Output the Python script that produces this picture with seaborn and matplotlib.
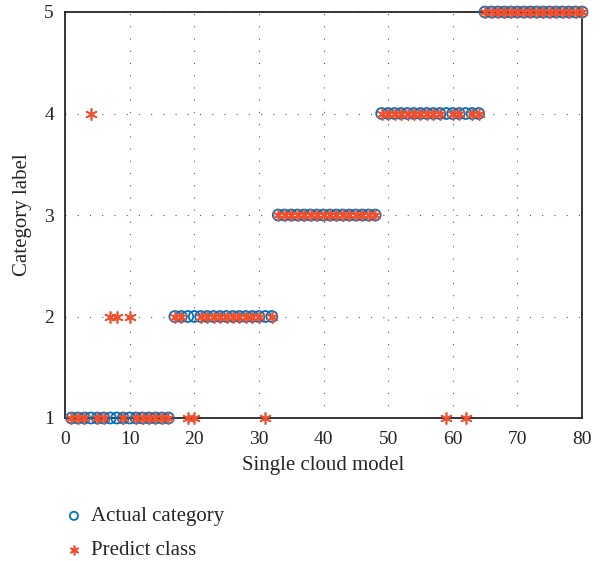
import numpy as np
import pandas as pd
import matplotlib
matplotlib.use("Agg")
import matplotlib.pyplot as plt
import seaborn as sns

sample = list(range(1, 81))
actual_category = [1]*16 + [2]*16 + [3]*16 + [4]*16 + [5]*16
predict_class = [1, 1, 1, 4, 1, 1, 2, 2, 1, 2, 1, 1, 1, 1, 1, 1,
                 2, 2, 1, 1, 2, 2, 2, 2, 2, 2, 2, 2, 2, 2, 1, 2,
                 3, 3, 3, 3, 3, 3, 3, 3, 3, 3, 3, 3, 3, 3, 3, 3,
                 4, 4, 4, 4, 4, 4, 4, 4, 4, 4, 1, 4, 4, 1, 4, 4,
                 5, 5, 5, 5, 5, 5, 5, 5, 5, 5, 5, 5, 5, 5, 5, 5]
x_ticks = [0, 10, 20, 30, 40, 50, 60, 70, 80]
y_ticks = [1, 2, 3, 4, 5]

sns.set_style("white")
plt.rcParams['font.family'] = ['Liberation Serif', 'DejaVu Serif']

df = pd.DataFrame({"sample": sample, "actual": actual_category, "pred": predict_class})

fig = plt.figure(figsize=(6.03, 5.61), dpi=100)
ax = fig.add_axes([65/603, 1-418/561, (582-65)/603, (418-12)/561])

sns.scatterplot(data=df, x="sample", y="actual", ax=ax, marker="o", s=62,
                facecolor="none", edgecolor="#0072BD", linewidth=1.3,
                label="Actual category", clip_on=False, zorder=3)
sns.scatterplot(data=df, x="sample", y="pred", ax=ax, marker=(6, 2, 0), s=65,
                color="#F0502D", edgecolor="#F0502D", linewidth=1.2,
                label="Predict class", clip_on=False, zorder=4)

ax.set_xlim(0, 80)
ax.set_ylim(1, 5)
ax.set_xticks(x_ticks)
ax.set_yticks(y_ticks)
ax.tick_params(direction="in", length=5, width=1, labelsize=14, color="#262626",
               labelcolor="#262626", top=False, right=False)
ax.tick_params(axis="x", pad=9)
ax.tick_params(axis="y", pad=8)
ax.grid(True, linestyle=(0, (1, 10)), color="#555555", linewidth=0.8)
for s in ax.spines.values():
    s.set_linewidth(1.3)
    s.set_color("#262626")
    s.set_visible(True)
ax.set_xlabel("Single cloud model", fontsize=15, color="#262626", labelpad=6)
ax.set_ylabel("Category label", fontsize=15, color="#262626", labelpad=9)

leg = ax.legend(loc="upper left", bbox_to_anchor=(-0.019, -0.198), frameon=False,
                fontsize=15, handletextpad=0.3, handlelength=1.0, labelspacing=0.7,
                borderaxespad=0, markerscale=0.75)
for t in leg.get_texts():
    t.set_color("#262626")

fig.savefig("out.png", dpi=100)
